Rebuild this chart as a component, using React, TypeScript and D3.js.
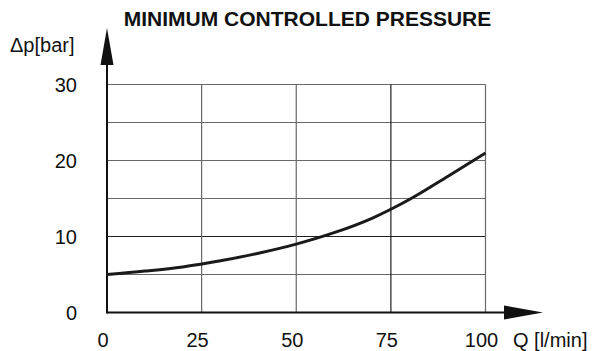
import React from "react";
import * as d3 from "d3";

const flowQ = [0, 10, 20, 30, 40, 50, 60, 70, 80, 90, 100];
const pressureDp = [5.0, 5.45, 6.0, 6.8, 7.8, 9.0, 10.5, 12.4, 14.9, 17.9, 21.0];
const xTicks = [0, 25, 50, 75, 100];
const yTicks = [0, 10, 20, 30];
const yGrid = [5, 10, 15, 20, 25, 30];
const xGrid = [25, 50, 75, 100];
const title = "MINIMUM CONTROLLED PRESSURE";
const yLabel = "\u0394p[bar]";
const xLabel = "Q [l/min]";

export default function App() {
  const W = 599, H = 351;
  const x = d3.scaleLinear().domain([0, 100]).range([107, 485.5]);
  const y = d3.scaleLinear().domain([0, 30]).range([312.5, 84.5]);
  const data = flowQ.map((q, i) => ({ q, p: pressureDp[i] }));
  const line = d3
    .line<{ q: number; p: number }>()
    .x((d) => x(d.q))
    .y((d) => y(d.p))
    .curve(d3.curveMonotoneX);
  const font = "'Liberation Sans', Arial, sans-serif";
  const x0 = x(0), y0 = y(0);
  const yTip = 28, xTip = 543;
  return (
    <svg
      width={W}
      height={H}
      viewBox={`0 0 ${W} ${H}`}
      style={{ position: "absolute", left: 0, top: 0, background: "#fff" }}
      fontFamily={font}
    >
      <rect width={W} height={H} fill="#fff" />
      {yGrid.map((v) => (
        <line
          key={"gy" + v}
          x1={x0}
          x2={x(100)}
          y1={y(v)}
          y2={y(v)}
          stroke={v === 10 ? "#1e1e1e" : "#686868"}
          strokeWidth={1.2}
        />
      ))}
      {xGrid.map((v) => (
        <line
          key={"gx" + v}
          x1={x(v)}
          x2={x(v)}
          y1={y(30)}
          y2={y0}
          stroke={v === 75 ? "#1e1e1e" : "#686868"}
          strokeWidth={1.2}
        />
      ))}
      <line x1={x0} x2={xTip - 20} y1={y0} y2={y0} stroke="#111" strokeWidth={2} />
      <line x1={x0} x2={x0} y1={y0 + 1} y2={yTip + 20} stroke="#111" strokeWidth={2} />
      <path
        d={`M${xTip},${y0} L${xTip - 39},${y0 - 7} L${xTip - 39},${y0 + 7} Z`}
        fill="#111"
      />
      <path
        d={`M${x0},${yTip} L${x0 - 6.5},${yTip + 37} L${x0 + 6.5},${yTip + 37} Z`}
        fill="#111"
      />
      <path d={line(data) || ""} fill="none" stroke="#1a1a1a" strokeWidth={3} />
      {yTicks.map((v) => (
        <text
          key={"ty" + v}
          x={77}
          y={y(v) + 7}
          textAnchor="end"
          fontSize={20}
          fill="#111"
        >
          {v}
        </text>
      ))}
      {xTicks.map((v) => (
        <text
          key={"tx" + v}
          x={x(v) - 4}
          y={346.5}
          textAnchor="middle"
          fontSize={20}
          fill="#111"
        >
          {v}
        </text>
      ))}
      <text x={513} y={346.5} fontSize={20} fill="#111">
        {xLabel}
      </text>
      <text x={10} y={52} fontSize={20} fill="#111">
        {yLabel}
      </text>
      <text
        x={307.5}
        y={26}
        textAnchor="middle"
        fontSize={21}
        fontWeight="bold"
        fill="#111"
      >
        {title}
      </text>
    </svg>
  );
}
